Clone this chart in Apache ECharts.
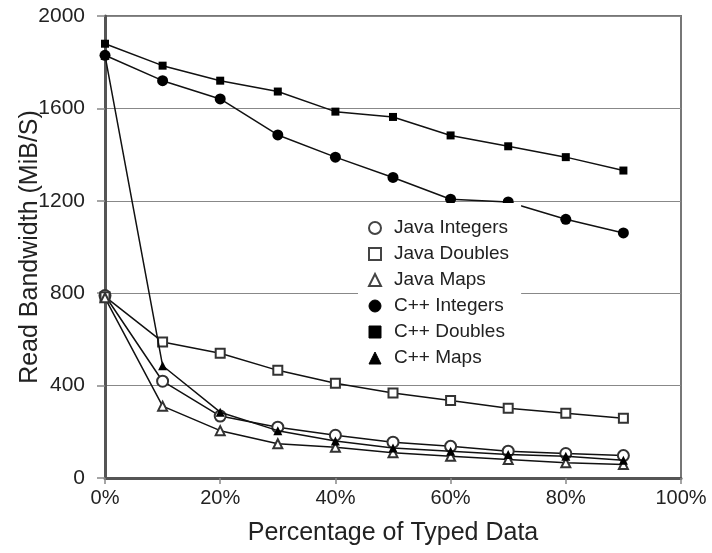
<!DOCTYPE html>
<html>
<head>
<meta charset="utf-8">
<script src="https://cdn.jsdelivr.net/npm/echarts@6/dist/echarts.min.js"></script>
<style>
  html, body { margin: 0; padding: 0; background: #fff; }
  #chart { width: 712px; height: 553px; }
</style>
</head>
<body>
<div id="chart"></div>
<script>
// Percentage of typed data (x positions)
const typedPercent = [0, 10, 20, 30, 40, 50, 60, 70, 80, 90];

// Read bandwidth in MiB/s per test
const javaIntegers = [790, 419, 268, 220, 185, 155, 137, 116, 106, 97];
const javaDoubles  = [785, 589, 540, 466, 410, 368, 335, 302, 280, 259];
const javaMaps     = [780, 311, 205, 148, 133, 109, 94, 80, 66, 58];
const cppIntegers  = [1830, 1720, 1641, 1485, 1389, 1301, 1207, 1195, 1120, 1061];
const cppDoubles   = [1880, 1785, 1720, 1673, 1586, 1563, 1483, 1436, 1389, 1331];
const cppMaps      = [1830, 486, 285, 205, 160, 130, 116, 102, 94, 77];

const seriesNames = ['Java Integers', 'Java Doubles', 'Java Maps', 'C++ Integers', 'C++ Doubles', 'C++ Maps'];
const seriesValues = [javaIntegers, javaDoubles, javaMaps, cppIntegers, cppDoubles, cppMaps];
const seriesSymbols = ['emptyCircle', 'emptyRect', 'emptyTriangle', 'circle', 'rect', 'triangle'];
const symbolSizes = [11, 9, 9, 11, 8, 9];

const FONT = 'Liberation Sans, Arial, sans-serif';

const chart = echarts.init(document.getElementById('chart'));

const series = seriesNames.map((name, i) => ({
  name: name,
  type: 'line',
  data: typedPercent.map((x, j) => [x, seriesValues[i][j]]),
  symbol: seriesSymbols[i],
  symbolSize: symbolSizes[i],
  showAllSymbol: true,
  lineStyle: { color: '#111', width: 1.5 },
  itemStyle: { color: i < 3 ? '#333' : '#000', borderWidth: 1 },
  emphasis: { disabled: true },
  z: 2 + i
}));

chart.setOption({
  animation: false,
  backgroundColor: '#fff',
  grid: {
    left: 105, right: 31, top: 16, bottom: 75,
    outerBoundsMode: 'none',
    show: true, borderColor: '#777', borderWidth: 2, containLabel: false
  },
  legend: {
    orient: 'vertical',
    left: 358,
    top: 203,
    padding: [15, 12, 8, 10],
    backgroundColor: '#fff',
    itemGap: 6,
    itemWidth: 12,
    itemHeight: 12,
    z: 20,
    selectedMode: false,
    textStyle: { fontFamily: FONT, fontSize: 19, lineHeight: 20, color: '#222', padding: [0, 0, 0, 8] },
    data: seriesNames.map((n, i) => ({
      name: n,
      icon: seriesSymbols[i],
      itemStyle: { color: i < 3 ? '#444' : '#000', borderColor: i < 3 ? '#444' : '#000', borderWidth: 1 }
    }))
  },
  xAxis: {
    type: 'value',
    min: 0, max: 100, interval: 20,
    name: 'Percentage of Typed Data',
    nameLocation: 'middle',
    nameGap: 43,
    nameMoveOverlap: false,
    nameTextStyle: { fontFamily: FONT, fontSize: 25, color: '#222' },
    axisLine: { show: true, onZero: false, lineStyle: { color: '#555', width: 3 } },
    axisTick: { show: true, length: 6, lineStyle: { color: '#888', width: 1.5 } },
    axisLabel: { formatter: '{value}%', fontFamily: FONT, fontSize: 20, color: '#222', margin: 10 },
    splitLine: { show: false }
  },
  yAxis: {
    type: 'value',
    min: 0, max: 2000, interval: 400,
    name: 'Read Bandwidth (MiB/S)',
    nameLocation: 'middle',
    nameGap: 62,
    nameMoveOverlap: false,
    nameTextStyle: { fontFamily: FONT, fontSize: 25, color: '#222' },
    axisLine: { show: true, lineStyle: { color: '#555', width: 3 } },
    axisTick: { show: true, length: 8, lineStyle: { color: '#888', width: 1.5 } },
    axisLabel: { formatter: (v) => String(v), fontFamily: FONT, fontSize: 21, color: '#222', margin: 20 },
    splitLine: { show: true, lineStyle: { color: '#888', width: 1.2 } }
  },
  series: series
});
</script>
</body>
</html>
